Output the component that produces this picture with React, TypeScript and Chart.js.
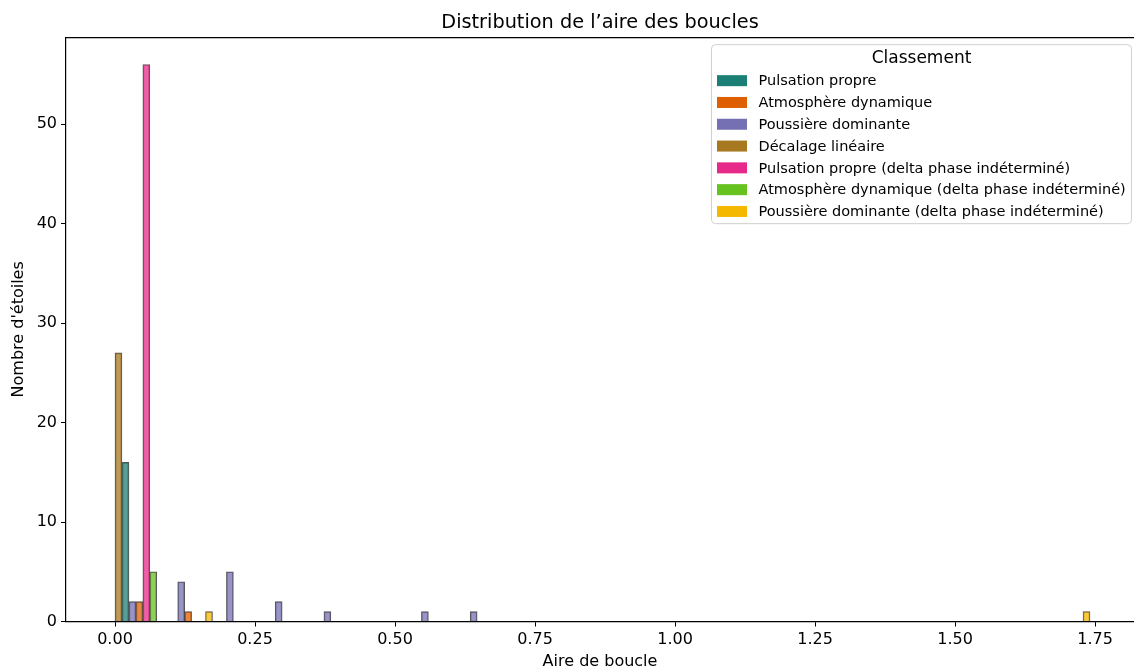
import React, { useEffect, useRef } from "react";
import { Chart, registerables } from "chart.js";

Chart.register(...registerables);

// ---- Data ----
const chartTitle = "Distribution de l’aire des boucles";
const xAxisTitle = "Aire de boucle";
const yAxisTitle = "Nombre d'étoiles";
const legendTitle = "Classement";

// centres of the 20 histogram bins (aire de boucle)
const binCenters = [
  0.0435, 0.1306, 0.2176, 0.3047, 0.3917, 0.4788, 0.5658, 0.6529, 0.7399, 0.827,
  0.914, 1.0011, 1.0881, 1.1752, 1.2622, 1.3493, 1.4363, 1.5234, 1.6104, 1.6975,
];

const xTicks = [0, 0.25, 0.5, 0.75, 1.0, 1.25, 1.5, 1.75];
const yTicks = [0, 10, 20, 30, 40, 50];

// counts per bin, per class
const decalageLineaire = [27, 0, 0, 0, 0, 0, 0, 0, 0, 0, 0, 0, 0, 0, 0, 0, 0, 0, 0, 0];
const pulsationPropre = [16, 0, 0, 0, 0, 0, 0, 0, 0, 0, 0, 0, 0, 0, 0, 0, 0, 0, 0, 0];
const poussiereDominante = [2, 4, 5, 2, 1, 0, 1, 1, 0, 0, 0, 0, 0, 0, 0, 0, 0, 0, 0, 0];
const atmosphereDynamique = [2, 1, 0, 0, 0, 0, 0, 0, 0, 0, 0, 0, 0, 0, 0, 0, 0, 0, 0, 0];
const pulsationPropreDelta = [56, 0, 0, 0, 0, 0, 0, 0, 0, 0, 0, 0, 0, 0, 0, 0, 0, 0, 0, 0];
const atmosphereDynamiqueDelta = [5, 0, 0, 0, 0, 0, 0, 0, 0, 0, 0, 0, 0, 0, 0, 0, 0, 0, 0, 0];
const poussiereDominanteDelta = [0, 1, 0, 0, 0, 0, 0, 0, 0, 0, 0, 0, 0, 0, 0, 0, 0, 0, 0, 1];

// series in bar (dodge) order
const seriesLabels = [
  "Décalage linéaire",
  "Pulsation propre",
  "Poussière dominante",
  "Atmosphère dynamique",
  "Pulsation propre (delta phase indéterminé)",
  "Atmosphère dynamique (delta phase indéterminé)",
  "Poussière dominante (delta phase indéterminé)",
];
const seriesValues = [
  decalageLineaire,
  pulsationPropre,
  poussiereDominante,
  atmosphereDynamique,
  pulsationPropreDelta,
  atmosphereDynamiqueDelta,
  poussiereDominanteDelta,
];
const seriesColors = [
  "#a87821",
  "#1b7f76",
  "#7570b3",
  "#df5f00",
  "#e7298a",
  "#66c21e",
  "#f5b800",
];
// order in which classes appear in the legend (indices into series)
const legendOrder = [1, 3, 2, 0, 4, 5, 6];

const FONT = "'DejaVu Sans', sans-serif";

function withAlpha(hex: string, a: number) {
  const r = parseInt(hex.slice(1, 3), 16);
  const g = parseInt(hex.slice(3, 5), 16);
  const b = parseInt(hex.slice(5, 7), 16);
  return `rgba(${r},${g},${b},${a})`;
}

const framePlugin = {
  id: "frameAndLegend",
  afterDraw(chart: any) {
    const { ctx, chartArea } = chart;
    ctx.save();
    // top spine
    ctx.strokeStyle = "#000";
    ctx.lineWidth = 1.2;
    ctx.beginPath();
    ctx.moveTo(chartArea.left, chartArea.top + 0.5);
    ctx.lineTo(chartArea.right, chartArea.top + 0.5);
    ctx.stroke();

    // legend box
    const right = chartArea.right - 2.5;
    const left = right - 420;
    const top = chartArea.top + 7.5;
    const bottom = top + 179;
    const r = 4;
    ctx.beginPath();
    ctx.moveTo(left + r, top);
    ctx.lineTo(right - r, top);
    ctx.arcTo(right, top, right, top + r, r);
    ctx.lineTo(right, bottom - r);
    ctx.arcTo(right, bottom, right - r, bottom, r);
    ctx.lineTo(left + r, bottom);
    ctx.arcTo(left, bottom, left, bottom - r, r);
    ctx.lineTo(left, top + r);
    ctx.arcTo(left, top, left + r, top, r);
    ctx.closePath();
    ctx.fillStyle = "rgba(255,255,255,0.8)";
    ctx.fill();
    ctx.strokeStyle = "#d0d0d0";
    ctx.lineWidth = 1;
    ctx.stroke();

    ctx.fillStyle = "#000";
    ctx.textBaseline = "middle";
    ctx.textAlign = "center";
    ctx.font = `17px ${FONT}`;
    ctx.fillText(legendTitle, (left + right) / 2, top + 14);

    ctx.textAlign = "left";
    ctx.font = `14.5px ${FONT}`;
    legendOrder.forEach((si, k) => {
      const cy = top + 36 + k * 21.8;
      ctx.fillStyle = seriesColors[si];
      ctx.fillRect(left + 5.5, cy - 5.5, 30, 11);
      ctx.fillStyle = "#000";
      ctx.fillText(seriesLabels[si], left + 47, cy + 1);
    });
    ctx.restore();
  },
};

export default function App() {
  const canvasRef = useRef<HTMLCanvasElement | null>(null);

  useEffect(() => {
    const canvas = canvasRef.current;
    if (!canvas) return;
    const datasets = seriesLabels.map((label, si) => ({
      label,
      data: binCenters.map((x, i) => ({
        x,
        y: seriesValues[si][i] === 0 ? null : seriesValues[si][i],
      })),
      backgroundColor: withAlpha(seriesColors[si], 0.75),
      borderColor: "rgba(45,45,45,0.8)",
      borderWidth: 1,
      categoryPercentage: 1,
      barPercentage: 1,
    }));

    const tickFont = { family: FONT, size: 16 };

    const chart = new Chart(canvas, {
      type: "bar",
      data: { datasets } as any,
      plugins: [framePlugin],
      options: {
        responsive: false,
        animation: false,
        layout: { padding: 0 },
        plugins: {
          legend: { display: false },
          tooltip: { enabled: false },
          title: {
            display: true,
            fullSize: false,
            text: chartTitle,
            color: "#000",
            font: { family: FONT, size: 19.3, weight: "normal" },
            padding: { top: 11, bottom: 3 },
          },
        },
        scales: {
          x: {
            type: "linear",
            min: -0.0875,
            max: 1.8196,
            offset: false,
            afterBuildTicks: (scale: any) => {
              scale.ticks = xTicks.map((v) => ({ value: v }));
            },
            afterFit: (scale: any) => {
              scale.height = 49.5;
            },
            ticks: {
              color: "#000",
              font: tickFont,
              padding: 4,
              maxRotation: 0,
              autoSkip: false,
              callback: (v: any) => Number(v).toFixed(2),
            },
            grid: {
              display: true,
              offset: false,
              drawOnChartArea: false,
              drawTicks: true,
              tickLength: 5,
              tickColor: "#000",
              tickWidth: 1,
            },
            border: { display: true, color: "#000", width: 1.2 },
            title: {
              display: true,
              text: xAxisTitle,
              color: "#000",
              font: { family: FONT, size: 16 },
              padding: { top: 0, bottom: 0 },
            },
          },
          y: {
            type: "linear",
            min: 0,
            max: 58.75,
            afterBuildTicks: (scale: any) => {
              scale.ticks = yTicks.map((v) => ({ value: v }));
            },
            afterFit: (scale: any) => {
              scale.width = 66;
            },
            ticks: {
              color: "#000",
              font: tickFont,
              padding: 4,
              callback: (v: any) => String(v),
            },
            grid: {
              display: true,
              offset: false,
              drawOnChartArea: false,
              drawTicks: true,
              tickLength: 5,
              tickColor: "#000",
              tickWidth: 1,
            },
            border: { display: true, color: "#000", width: 1.2 },
            title: {
              display: true,
              text: yAxisTitle,
              color: "#000",
              font: { family: FONT, size: 16 },
              padding: { top: 9, bottom: 0 },
            },
          },
        },
      } as any,
    });
    return () => chart.destroy();
  }, []);

  return (
    <div style={{ position: "absolute", left: 0, top: 0, width: 1134, height: 671 }}>
      <canvas ref={canvasRef} width={1134} height={671} style={{ display: "block" }} />
    </div>
  );
}
